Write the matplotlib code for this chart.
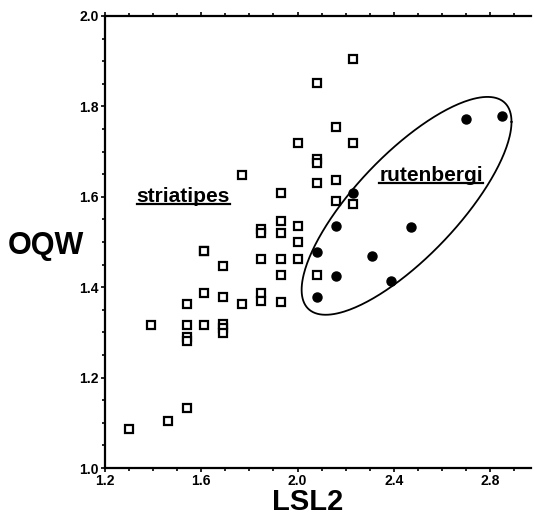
import numpy as np
import matplotlib
matplotlib.use("Agg")
import matplotlib.pyplot as plt
from matplotlib.ticker import MultipleLocator
from matplotlib.lines import Line2D

plt.rcParams['font.family'] = ['Liberation Sans', 'DejaVu Sans']

# striatipes (open squares)
striatipes_lsl2 = [1.30, 1.46, 1.54, 1.39, 1.54, 1.54, 1.54, 1.54, 1.61, 1.61,
                   1.61, 1.61, 1.69, 1.69, 1.69, 1.69, 1.69, 1.77, 1.77,
                   1.85, 1.85, 1.85, 1.85, 1.85, 1.93, 1.93, 1.93, 1.93, 1.93,
                   1.93, 2.00, 2.00, 2.00, 2.00, 2.08, 2.08, 2.08, 2.08, 2.08,
                   2.16, 2.16, 2.16, 2.23, 2.23, 2.23]
striatipes_oqw = [1.086, 1.104, 1.133, 1.316, 1.316, 1.290, 1.280, 1.362, 1.316, 1.387,
                  1.481, 1.481, 1.446, 1.378, 1.319, 1.310, 1.299, 1.648, 1.362,
                  1.462, 1.387, 1.369, 1.529, 1.520, 1.609, 1.546, 1.520, 1.462, 1.427,
                  1.368, 1.719, 1.536, 1.500, 1.462, 1.852, 1.684, 1.675, 1.631, 1.427,
                  1.754, 1.637, 1.591, 1.905, 1.719, 1.584]

# rutenbergi (filled circles)
rutenbergi_lsl2 = [2.08, 2.08, 2.16, 2.16, 2.23, 2.31, 2.39, 2.47, 2.70, 2.85]
rutenbergi_oqw = [1.478, 1.378, 1.535, 1.425, 1.608, 1.469, 1.414, 1.533, 1.772, 1.779]

fig = plt.figure(figsize=(5.34, 5.18), dpi=100)
ax = fig.add_axes([105 / 534, 50 / 518, 426 / 534, 452 / 518])

ax.plot(striatipes_lsl2, striatipes_oqw, 's', ms=5.4, mfc='white', mec='black', mew=1.6)
ax.plot(rutenbergi_lsl2, rutenbergi_oqw, 'o', ms=6.5, color='black')

# ellipse around rutenbergi
t = np.linspace(0, 2 * np.pi, 300)
phi = np.arccos(-0.771)
ex = 2.453 + 0.436 * np.cos(t)
ey = 1.580 - 0.241 * np.cos(t + phi)
ax.plot(ex, ey, color='black', lw=1.3)

labels = [
    ax.text(1.526, 1.60, 'striatipes', fontsize=15, fontweight='bold', ha='center', va='center'),
    ax.text(2.555, 1.648, 'rutenbergi', fontsize=15, fontweight='bold', ha='center', va='center'),
]

ax.set_xlim(1.2, 2.97)
ax.set_ylim(1.0, 2.0)
ax.xaxis.set_major_locator(MultipleLocator(0.4))
ax.xaxis.set_minor_locator(MultipleLocator(0.1))
ax.yaxis.set_major_locator(MultipleLocator(0.2))
ax.yaxis.set_minor_locator(MultipleLocator(0.05))
ax.xaxis.set_major_formatter(plt.FormatStrFormatter('%.1f'))
ax.yaxis.set_major_formatter(plt.FormatStrFormatter('%.1f'))
ax.tick_params(which='both', direction='out', width=1.2, labelsize=10, pad=1.5)
ax.tick_params(which='major', length=3)
ax.tick_params(which='minor', length=2.5)
ax.tick_params(axis='x', top=True, which='both')
for lab in ax.get_xticklabels() + ax.get_yticklabels():
    lab.set_fontweight('bold')

ax.spines['right'].set_visible(False)
for s in ['left', 'bottom', 'top']:
    ax.spines[s].set_linewidth(1.6)

ax.set_xlabel('LSL2', fontsize=21, fontweight='bold', va='center')
ax.xaxis.set_label_coords(0.475, -0.076)
ax.set_ylabel('OQW', fontsize=22, fontweight='bold', rotation=0, va='center', ha='left')
ax.yaxis.set_label_coords(-0.228, 0.491)

# underline the group names
fig.canvas.draw()
renderer = fig.canvas.get_renderer()
inv = fig.transFigure.inverted()
for txt in labels:
    bb = txt.get_window_extent(renderer)
    (x0, y0), (x1, _) = inv.transform([(bb.x0, bb.y0 + 2), (bb.x1, bb.y0 + 2)])
    fig.add_artist(Line2D([x0, x1], [y0, y0], color='black', lw=1.6,
                          transform=fig.transFigure))

fig.savefig('out.png', dpi=100)
